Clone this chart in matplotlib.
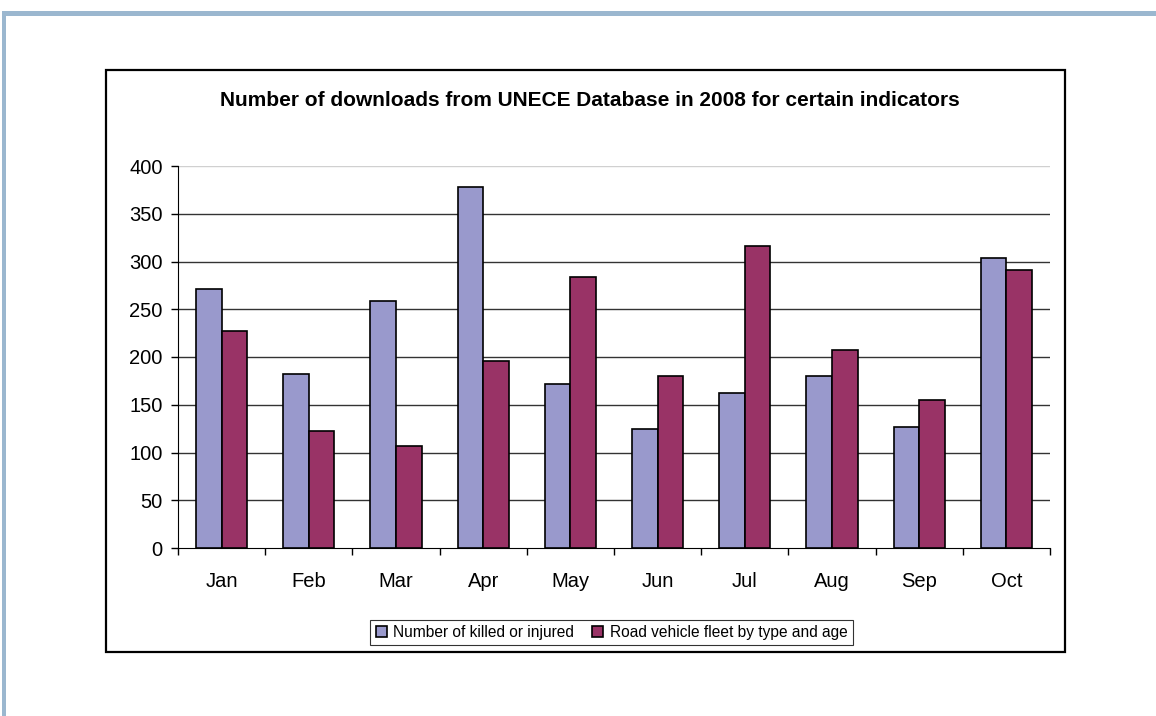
import matplotlib
matplotlib.use("Agg")
import matplotlib.pyplot as plt
import numpy as np
from matplotlib.patches import Rectangle

plt.rcParams['font.family'] = ['Liberation Sans', 'DejaVu Sans']

months = ["Jan", "Feb", "Mar", "Apr", "May", "Jun", "Jul", "Aug", "Sep", "Oct"]
killed_injured = [271, 182, 259, 378, 172, 125, 162, 180, 127, 304]
vehicle_fleet = [227, 122, 107, 196, 284, 180, 316, 207, 155, 291]
yticks = [0, 50, 100, 150, 200, 250, 300, 350, 400]
title = "Number of downloads from UNECE Database in 2008 for certain indicators"
labels = ["Number of killed or injured", "Road vehicle fleet by type and age"]
c_blue = "#9999CC"
c_red = "#993366"

W, H = 1156, 716
fig = plt.figure(figsize=(W / 100, H / 100), dpi=100)

def fx(px):
    return px / W

def fy(py):
    return 1 - py / H

# slide-style blue border
fig.patches.append(Rectangle((fx(2), fy(16)), fx(1156 - 2), 5 / H, transform=fig.transFigure,
                             facecolor="#9BB7CF", edgecolor="none", zorder=-5))
fig.patches.append(Rectangle((fx(2), 0), 4 / W, fy(11), transform=fig.transFigure,
                             facecolor="#9BB7CF", edgecolor="none", zorder=-5))
# chart frame
fig.patches.append(Rectangle((fx(106), fy(652)), fx(1065 - 106), (652 - 70) / H,
                             transform=fig.transFigure, facecolor="none",
                             edgecolor="black", linewidth=1.6, zorder=-5))

ax = fig.add_axes([fx(178), fy(548), fx(1050 - 178), (548 - 166) / H])
x = np.arange(len(months))
bw = 0.293
ax.bar(x - bw / 2, killed_injured, bw, color=c_blue, edgecolor="black", linewidth=1.2,
       label=labels[0], zorder=3)
ax.bar(x + bw / 2, vehicle_fleet, bw, color=c_red, edgecolor="black", linewidth=1.2,
       label=labels[1], zorder=3)

ax.set_xlim(-0.5, len(months) - 0.5)
ax.set_ylim(0, 400)
ax.set_yticks(yticks)
ax.set_yticklabels([str(v) for v in yticks], fontsize=14.5)
for v in yticks[1:]:
    ax.axhline(v, color="#D0D0D0" if v == 400 else "#333333", linewidth=1.0, zorder=1)

ax.set_xticks(x)
ax.set_xticklabels(months, fontsize=14.5)
ax.tick_params(axis="x", length=0, pad=17)
ax.set_xticks(np.arange(len(months) + 1) - 0.5, minor=True)
ax.tick_params(axis="x", which="minor", length=5, width=1, color="black", direction="out")
ax.tick_params(axis="y", length=5, width=1, color="black", direction="out", pad=6)

for s in ["top", "right"]:
    ax.spines[s].set_visible(False)
ax.spines["left"].set_color("black")
ax.spines["bottom"].set_color("black")
ax.patch.set_alpha(0)

fig.text(fx(590), fy(101), title, ha="center", va="center", fontsize=15, fontweight="bold")

leg = fig.legend(loc="center", bbox_to_anchor=(fx((367 + 856) / 2), fy(632.5)),
                 ncol=2, fontsize=11.2, frameon=True, fancybox=False, edgecolor="black",
                 handlelength=0.7, handleheight=0.7, handletextpad=0.4, columnspacing=1.2,
                 borderpad=0.35)
leg.get_frame().set_linewidth(0.8)

fig.savefig("out.png", dpi=100)
